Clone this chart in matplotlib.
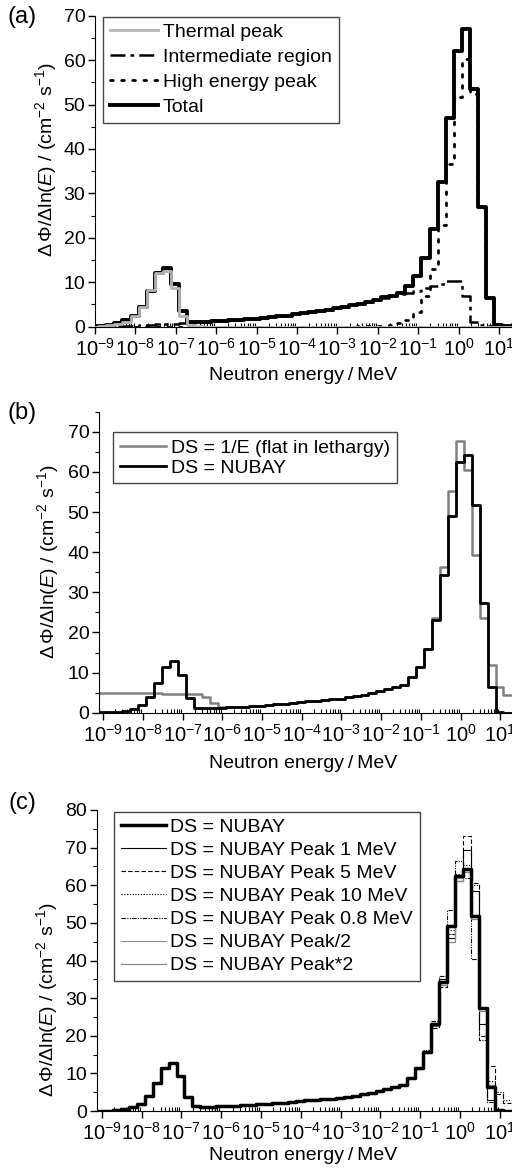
import numpy as np
import matplotlib
matplotlib.use('Agg')
import matplotlib.pyplot as plt
from matplotlib.ticker import FixedLocator, LogFormatterMathtext, MultipleLocator, NullFormatter

plt.rcParams['font.family'] = ['Liberation Sans', 'DejaVu Sans']
plt.rcParams['mathtext.fontset'] = 'custom'
plt.rcParams['mathtext.rm'] = 'Liberation Sans'
plt.rcParams['mathtext.it'] = 'Liberation Sans:italic'
plt.rcParams['mathtext.bf'] = 'Liberation Sans:bold'

# group boundaries, log10(E / MeV)
edges_log = [-9.12, -8.92, -8.72, -8.52, -8.32, -8.12, -7.92, -7.72, -7.52, -7.32,
             -7.12, -6.92, -6.72, -6.52, -6.32, -6.12, -5.92, -5.72, -5.52, -5.32,
             -5.12, -4.92, -4.72, -4.52, -4.32, -4.12, -3.92, -3.72, -3.52, -3.32,
             -3.12, -2.92, -2.72, -2.52, -2.32, -2.12, -1.92, -1.72, -1.52, -1.32,
             -1.12, -0.92, -0.72, -0.52, -0.32, -0.12, 0.08, 0.28, 0.48, 0.68,
             0.88, 1.08, 1.28]
decades = [-9, -8, -7, -6, -5, -4, -3, -2, -1, 0, 1]

# panel (a)
thermal = [0.02, 0.1, 0.3, 0.6, 1.1, 2.3, 4.5, 8.3, 12.0, 12.6,
           8.8, 2.3, 0.3, 0.05, 0, 0, 0, 0, 0, 0,
           0, 0, 0, 0, 0, 0, 0, 0, 0, 0,
           0, 0, 0, 0, 0, 0, 0, 0, 0, 0,
           0, 0, 0, 0, 0, 0, 0, 0, 0, 0,
           0, 0]
intermediate = [0.02, 0.05, 0.08, 0.12, 0.18, 0.25, 0.32, 0.4, 0.5, 0.6,
                0.7, 0.8, 0.9, 1.0, 1.1, 1.2, 1.3, 1.4, 1.5, 1.65,
                1.8, 1.95, 2.1, 2.3, 2.5, 2.75, 3.0, 3.2, 3.5, 3.8,
                4.1, 4.45, 4.8, 5.15, 5.5, 5.95, 6.4, 6.8, 7.3, 7.6,
                8.1, 8.6, 9.1, 9.6, 10.3, 10.3, 6.8, 1.1, 0.3, 0.1,
                0.0, 0.0]
high_energy = [0, 0, 0, 0, 0, 0, 0, 0, 0, 0,
               0, 0, 0, 0, 0, 0, 0, 0, 0, 0,
               0, 0, 0, 0, 0, 0, 0, 0, 0, 0,
               0, 0, 0, 0.05, 0.1, 0.15, 0.25, 0.4, 0.8, 1.6,
               3.2, 6.8, 12.9, 22.9, 36.7, 51.7, 60.2, 52.3, 26.7, 6.3,
               0.4, 0.05]
total = [0.05, 0.15, 0.35, 0.8, 1.6, 2.5, 4.5, 8.0, 12.1, 13.3,
         9.6, 3.5, 1.1, 1.05, 1.1, 1.2, 1.3, 1.4, 1.5, 1.65,
         1.8, 1.95, 2.1, 2.3, 2.5, 2.75, 3.0, 3.2, 3.5, 3.8,
         4.1, 4.45, 4.8, 5.2, 5.6, 6.1, 6.6, 7.0, 7.6, 9.2,
         11.3, 15.4, 22.0, 32.5, 47.0, 62.0, 67.0, 53.4, 27.0, 6.4,
         0.4, 0.1]

# panel (b)
nubay = [0.05, 0.1, 0.2, 0.5, 1.0, 1.9, 4.0, 7.4, 11.5, 12.8,
         9.3, 3.6, 1.2, 1.1, 1.15, 1.2, 1.3, 1.4, 1.5, 1.6,
         1.75, 1.9, 2.05, 2.2, 2.4, 2.6, 2.8, 2.95, 3.1, 3.3,
         3.5, 3.8, 4.1, 4.5, 4.9, 5.4, 5.9, 6.4, 7.0, 8.8,
         11.3, 15.8, 23.0, 34.2, 49.1, 62.5, 64.2, 51.8, 27.3, 6.5,
         0.2, 0.0]
flat_lethargy = [4.95, 4.93, 4.9, 4.88, 4.86, 4.84, 4.82, 4.8, 4.78, 4.76,
                 4.73, 4.7, 4.6, 4.0, 2.4, 1.5, 1.35, 1.4, 1.5, 1.6,
                 1.75, 1.9, 2.05, 2.2, 2.4, 2.6, 2.8, 2.95, 3.1, 3.3,
                 3.5, 3.8, 4.1, 4.5, 4.9, 5.4, 5.9, 6.4, 7.0, 8.8,
                 11.3, 15.8, 23.6, 36.4, 55.2, 67.6, 60.5, 39.3, 23.6, 11.8,
                 6.5, 4.4]

# panel (c): variants differ only from group 40 upward
peak_from = 40
peak_1mev = [11.4, 16.0, 23.5, 35.0, 46.0, 61.0, 69.5, 58.5, 23.0, 3.0, 0.3, 0.0]
peak_5mev = [11.2, 15.5, 22.0, 33.0, 47.0, 61.0, 73.0, 60.5, 20.0, 12.0, 4.5, 2.0]
peak_10mev = [11.2, 15.6, 22.5, 33.5, 48.0, 63.0, 65.5, 60.0, 27.5, 8.0, 5.0, 3.0]
peak_08mev = [11.5, 16.3, 24.0, 36.0, 53.5, 66.5, 62.0, 40.5, 19.0, 2.5, 0.2, 0.0]
peak_half = [11.3, 15.8, 22.5, 34.0, 47.0, 62.0, 63.5, 52.0, 27.5, 7.0, 0.5, 0.0]
peak_double = [11.2, 15.7, 23.5, 33.5, 45.0, 61.0, 63.5, 51.0, 26.5, 6.5, 0.3, 0.0]

E = 10 ** np.array(edges_log)
major_x = 10.0 ** np.array(decades)
minor_x = np.outer(major_x, np.arange(2, 10)).ravel()
W, H = 512, 1176
ylab = r'$\Delta\,\mathit{Φ}/\Delta\mathrm{ln}(\mathit{E})$ / (cm$^{-2}$ s$^{-1}$)'
xlab = 'Neutron energy\u2009/\u2009MeV'


def steps(ax, vals, **kw):
    vals = list(vals)
    return ax.step(E, vals + [vals[-1]], where='post', **kw)


def make_axes(fig, left, bottom_px, top_px, xlog, ymax):
    ax = fig.add_axes([left / W, 1 - bottom_px / H, (W - left) / W, (bottom_px - top_px) / H])
    ax.set_xscale('log')
    ax.set_xlim(10 ** xlog[0], 10 ** xlog[1])
    ax.set_ylim(0, ymax)
    for s in ['top', 'right']:
        ax.spines[s].set_visible(False)
    ax.xaxis.set_major_locator(FixedLocator(major_x))
    ax.xaxis.set_minor_locator(FixedLocator(minor_x[minor_x < 10 ** xlog[1]]))
    ax.xaxis.set_major_formatter(LogFormatterMathtext())
    ax.xaxis.set_minor_formatter(NullFormatter())
    ax.yaxis.set_major_locator(MultipleLocator(10))
    ax.yaxis.set_minor_locator(MultipleLocator(5))
    ax.tick_params(which='major', direction='out', length=5, width=1, labelsize=14, pad=2)
    ax.tick_params(axis='x', which='major', labelsize=14.5, pad=3)
    ax.tick_params(axis='x', which='minor', direction='in', length=3, width=0.8)
    ax.tick_params(axis='y', which='minor', direction='out', length=3, width=0.8)
    return ax


def legend(ax, fig, x_px, y_px, spacing, hlen, handles=None, labels=None):
    if handles is None:
        handles, labels = ax.get_legend_handles_labels()
    leg = ax.legend(handles, labels, loc='upper left',
                    bbox_to_anchor=(x_px / W, 1 - y_px / H),
                    bbox_transform=fig.transFigure, fontsize=14, frameon=True,
                    fancybox=False, edgecolor='#444444', framealpha=1,
                    handlelength=hlen, handletextpad=0.25, borderpad=0.35,
                    labelspacing=spacing, borderaxespad=0)
    leg.get_frame().set_linewidth(1.0)
    return leg


def labels(fig, letter, letter_y, ylab_xy, xlab_y):
    fig.text(22 / W, 1 - letter_y / H, letter, ha='center', va='center', fontsize=17)
    fig.text(ylab_xy[0] / W, 1 - ylab_xy[1] / H, ylab, rotation=90,
             ha='center', va='center', fontsize=14)
    fig.text(303 / W, 1 - xlab_y / H, xlab, ha='center', va='center', fontsize=14)


fig = plt.figure(figsize=(W / 100, H / 100), dpi=100)

# (a)
ax = make_axes(fig, 95, 326.7, 15.7, (-9.0, 1.32), 70)
l_tot, = steps(ax, total, color='black', lw=2.8, label='Total', zorder=2)
l_th, = steps(ax, thermal, color='#b4b4b4', lw=2.0, label='Thermal peak', zorder=3)
l_int, = steps(ax, intermediate, color='black', lw=1.8, ls=(0, (6, 2, 1.5, 2)),
               label='Intermediate region', zorder=2)
l_hi, = steps(ax, high_energy, color='black', lw=2.0, ls=(0, (1, 3)),
              dash_capstyle='round', label='High energy peak', zorder=2)
hs = [l_th, l_int, l_hi, l_tot]
legend(ax, fig, 102.7, 16.7, 0.38, 2.5, hs, [h.get_label() for h in hs])
labels(fig, '(a)', 17, (46, 160), 375)

# (b)
ax = make_axes(fig, 99, 712.7, 411.7, (-9.108, 1.295), 75)
steps(ax, flat_lethargy, color='#808080', lw=1.8, label='DS = 1/E (flat in lethargy)')
steps(ax, nubay, color='black', lw=2.0, label='DS = NUBAY')
legend(ax, fig, 112.7, 432.3, 0.12, 2.4)
labels(fig, '(b)', 413, (48, 562), 763)

# (c)
ax = make_axes(fig, 96.7, 1111, 810, (-9.126, 1.309), 80)
low = nubay[:peak_from]
variants = [
    (peak_1mev, 'DS = NUBAY Peak 1 MeV', dict(color='black', lw=0.8, ls='-')),
    (peak_5mev, 'DS = NUBAY Peak 5 MeV', dict(color='black', lw=0.8, ls=(0, (4, 2)))),
    (peak_10mev, 'DS = NUBAY Peak 10 MeV', dict(color='black', lw=0.8, ls=(0, (1, 1.5)))),
    (peak_08mev, 'DS = NUBAY Peak 0.8 MeV', dict(color='black', lw=0.8, ls=(0, (4, 1.2, 1, 1.2, 1, 1.2)))),
    (peak_half, 'DS = NUBAY Peak/2', dict(color='#333333', lw=0.8, ls=(0, (1, 0.8)))),
    (peak_double, 'DS = NUBAY Peak*2', dict(color='#888888', lw=0.9, ls='-')),
]
steps(ax, nubay, color='black', lw=2.5, label='DS = NUBAY', zorder=3)
for vals, lab, st in variants:
    steps(ax, low + vals, label=lab, zorder=2, **st)
legend(ax, fig, 114, 811.7, 0.28, 2.3)
labels(fig, '(c)', 803, (47, 1000), 1155)

fig.savefig('out.png', dpi=100)
